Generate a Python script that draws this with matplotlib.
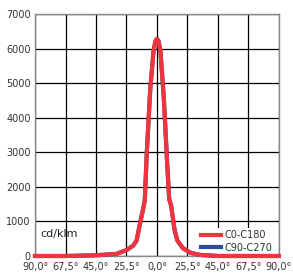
import matplotlib
matplotlib.use("Agg")
import matplotlib.pyplot as plt

# angle (deg) vs intensity (cd/klm)
ANGLES = [-90, -67.5, -45, -30, -22.5, -17.5, -15, -13, -10, -9, -7.5, -5, -2.5, -1, 0,
          1, 2.5, 5, 7.5, 9, 10.5, 13, 15, 19, 25, 32, 45, 67.5, 90]
C0_C180 = [0, 0, 20, 60, 170, 300, 450, 850, 1400, 1600, 3000, 4800, 5950, 6230, 6280,
           6230, 5950, 4600, 2700, 1650, 1450, 750, 450, 230, 90, 30, 0, 0, 0]
C90_C270 = C0_C180
XTICKS = [-90, -67.5, -45, -22.5, 0, 22.5, 45, 67.5, 90]
XLABELS = ["90,0°", "67,5°", "45,0°", "25,5°", "0,0°", "25,5°", "45,0°", "67,5°", "90,0°"]
YTICKS = [0, 1000, 2000, 3000, 4000, 5000, 6000, 7000]

fig = plt.figure(figsize=(2.93, 2.73), dpi=100)
ax = fig.add_axes([0.1195, 0.0623, 0.8325, 0.8864])

ax.plot(ANGLES, C90_C270, color="#2e4a9a", lw=3, label="C90-C270", zorder=2.7, clip_on=False)
ax.plot(ANGLES, C0_C180, color="#f0343e", lw=3, label="C0-C180", zorder=3, clip_on=False)

ax.set_xlim(-90, 90); ax.set_ylim(0, 7000)
ax.set_xticks(XTICKS); ax.set_xticklabels(XLABELS)
ax.set_yticks(YTICKS)
ax.tick_params(length=0, labelsize=7, labelcolor="#333333")
ax.tick_params(axis="x", pad=4)
ax.tick_params(axis="y", pad=3)
ax.grid(True, color="black", lw=0.9)
ax.set_axisbelow(True)
for sp in ax.spines.values():
    sp.set_color("#888888"); sp.set_linewidth(1)

ax.text(-86, 550, "cd/klm", fontsize=8, color="#222222")

h, l = ax.get_legend_handles_labels()
leg = ax.legend(h[::-1], l[::-1], loc="lower right", bbox_to_anchor=(1.0, -0.015),
                fontsize=7, frameon=True, handlelength=2.1, handletextpad=0.3,
                labelspacing=0.25, borderpad=0.2, fancybox=False)
leg.get_frame().set_edgecolor("none")
leg.get_frame().set_facecolor("white")
leg.get_frame().set_alpha(1)
leg.set_zorder(2.5)
for t in leg.get_texts():
    t.set_color("#333333")

fig.savefig("out.png", dpi=100)
